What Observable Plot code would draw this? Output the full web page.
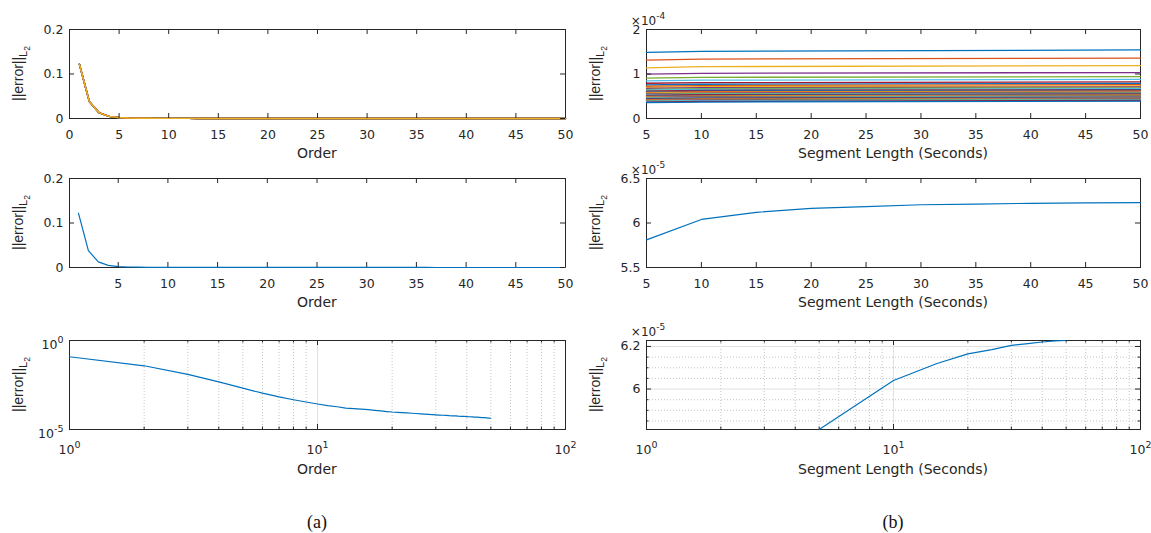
<!DOCTYPE html>
<html>
<head>
<meta charset="utf-8">
<script src="https://cdn.jsdelivr.net/npm/d3@7"></script>
<script src="https://cdn.jsdelivr.net/npm/@observablehq/plot@0.6"></script>
<style>
  body { margin: 0; background: #fff; }
  #fig { position: relative; width: 1151px; height: 533px; overflow: hidden; background: #fff; }
  #fig svg { position: absolute; overflow: visible; }
  .cap { position: absolute; top: 513px; width: 120px; text-align: center; line-height: 18px;
         font-family: "Liberation Serif", "DejaVu Serif", serif; font-size: 18px; color: #111; }
</style>
</head>
<body>
<div id="fig"></div>
<script>
// ---- data ----------------------------------------------------------------
// polynomial order axis
const orders = [1,2,3,4,5,6,7,8,9,10,11,12,13,14,15,16,17,18,19,20,
                21,22,23,24,25,26,27,28,29,30,31,32,33,34,35,36,37,38,39,40,
                41,42,43,44,45,46,47,48,49,50];
// L2 error versus order
const errorByOrder = [0.122,0.038,0.0125,0.0047,0.0021,0.0011,0.00068,0.00047,0.00035,0.00027,
                      0.00022,0.00019,0.00016,0.00015,0.00014,0.00013,0.00012,0.00011,0.000102,0.000096,
                      0.000092,0.000088,0.000085,0.000082,0.000079,0.000076,0.000073,0.000071,0.000069,0.000067,
                      0.000065,0.000063,0.000062,0.00006,0.000059,0.000058,0.000056,0.000055,0.000054,0.000053,
                      0.000052,0.000051,0.00005,0.000049,0.000048,0.000047,0.000046,0.000045,0.000044,0.000043];
// segment lengths in seconds
const segmentLengths = [5,10,15,20,25,30,35,40,45,50];
// per-order error curves over segment length (units of 1e-4), sampled at 5, 10 and 50 s
const sweepSamples = [5, 10, 50];
const errAt5  = [1.486,1.313,1.139,0.996,0.906,0.845,0.792,0.755,0.725,0.700,0.675,0.655,0.635,0.615,0.600,0.585,0.570,0.555,
                 0.540,0.530,0.520,0.505,0.495,0.485,0.475,0.465,0.455,0.445,0.435,0.425,0.415,0.405,0.395,0.385,0.370,0.355];
const errAt10 = [1.510,1.335,1.165,1.015,0.925,0.862,0.806,0.770,0.741,0.716,0.692,0.672,0.652,0.632,0.617,0.602,0.587,0.572,
                 0.556,0.546,0.535,0.520,0.510,0.499,0.489,0.479,0.469,0.459,0.449,0.439,0.429,0.419,0.409,0.399,0.384,0.369];
const errAt50 = [1.540,1.359,1.190,1.033,0.942,0.878,0.822,0.790,0.760,0.735,0.710,0.690,0.670,0.650,0.635,0.620,0.605,0.590,
                 0.575,0.565,0.555,0.540,0.530,0.520,0.510,0.500,0.490,0.480,0.470,0.460,0.450,0.440,0.430,0.420,0.405,0.390];
// single-order error versus segment length (units of 1e-5)
const sweepError = [5.81,6.04,6.12,6.165,6.185,6.205,6.213,6.221,6.226,6.228];

// tick values
const linTicks0 = [0,5,10,15,20,25,30,35,40,45,50];
const linTicks5 = [5,10,15,20,25,30,35,40,45,50];
const decadeTicks = [1,10,100];
const minorDecade = [2,3,4,5,6,7,8,9,20,30,40,50,60,70,80,90];

const lineColors = ["#0072BD","#D95319","#EDB120","#7E2F8E","#77AC30","#4DBEEE","#A2142F"];

// ---- helpers -------------------------------------------------------------
const INK = "#262626";
const ML = 75, MR = 12, MT = 24, MB = 56;
const FONT = "'DejaVu Sans', sans-serif";
const fig = document.getElementById("fig");

function frameTicks(xt, yt, w, h, len) {
  return [
    Plot.tickX(xt, {x: d => d, insetTop: h - len, stroke: INK}),
    Plot.tickX(xt, {x: d => d, insetBottom: h - len, stroke: INK}),
    Plot.tickY(yt, {y: d => d, insetRight: w - len, stroke: INK}),
    Plot.tickY(yt, {y: d => d, insetLeft: w - len, stroke: INK})
  ];
}

function superscripts(svg) {
  d3.select(svg).selectAll("text").each(function () {
    const s = this.textContent;
    if (!s.includes("^")) return;
    const [base, exp] = s.split("^");
    const t = d3.select(this);
    t.text(null);
    t.append("tspan").text(base);
    t.append("tspan").attr("dy", -6).attr("font-size", 9.5).text(exp);
  });
}

function panel({L, T, w, h, x, y, marks, xlabel, xlabelOff, exponent}) {
  const svg = Plot.plot({
    width: w + ML + MR, height: h + MT + MB,
    marginLeft: ML, marginRight: MR, marginTop: MT, marginBottom: MB,
    x, y,
    style: {fontFamily: FONT, fontSize: "12.5px", color: INK, background: "transparent", overflow: "visible"},
    marks
  });
  svg.style.left = (L - ML) + "px";
  svg.style.top = (T - MT) + "px";
  fig.append(svg);
  superscripts(svg);
  const g = d3.select(svg);
  // x label
  g.append("text").attr("x", ML + w / 2).attr("y", MT + h + xlabelOff)
    .attr("text-anchor", "middle").attr("fill", INK)
    .attr("font-family", FONT).attr("font-size", 14).text(xlabel);
  // y label ||error||_{L_2}
  const yl = g.append("text")
    .attr("transform", `translate(${ML - 46},${MT + h / 2}) rotate(-90)`)
    .attr("text-anchor", "middle").attr("fill", INK)
    .attr("font-family", "'Liberation Sans', Arial, sans-serif").attr("font-size", 14);
  yl.append("tspan").text("||error||");
  yl.append("tspan").attr("font-size", 11).attr("dy", 4).text("L");
  yl.append("tspan").attr("font-size", 8.5).attr("dy", 3).text("2");
  // axis multiplier
  if (exponent) {
    const ex = g.append("text").attr("x", ML + 2).attr("y", MT - 4.5).attr("fill", INK)
      .attr("font-family", FONT).attr("font-size", 12);
    ex.append("tspan").text("\u00d710");
    ex.append("tspan").attr("dy", -6).attr("font-size", 9).text(exponent);
  }
  return svg;
}

const W_L = 496, W_R = 494, H = 89;
const X_L = 69, X_R = 646;
const Y_TOP = 29, Y_MID = 178, Y_BOT = 340;

const fmt = d => String(d);
const pow10 = d => "10^" + Math.round(Math.log10(d));

// long tables built from the arrays above
const orderRows = orders.map((o, i) => ({order: o, err: errorByOrder[i]}));
const sweepRows = segmentLengths.map((s, i) => ({seg: s, err: sweepError[i]}));
const perOrderCurves = errAt5.map((_, k) =>
  sweepSamples.map((s, j) => ({seg: s, err: [errAt5, errAt10, errAt50][j][k]})));

// ---- (a) top: error vs order, one curve per segment length ---------------
panel({
  L: X_L, T: Y_TOP, w: W_L, h: H,
  x: {domain: [0, 50]}, y: {domain: [0, 0.2]},
  xlabel: "Order", xlabelOff: 39.5,
  marks: [
    Plot.frame({stroke: INK}),
    ...segmentLengths.map((s, i) => Plot.line(orderRows, {x: "order", y: "err", stroke: lineColors[i % 7], strokeWidth: 1.4})),
    ...frameTicks(linTicks0, [0, 0.1, 0.2], W_L, H, 5),
    Plot.axisX({ticks: linTicks0, tickSize: 0, tickPadding: 12, tickFormat: fmt, label: null}),
    Plot.axisY({ticks: [0, 0.1, 0.2], tickSize: 0, tickPadding: 6, tickFormat: fmt, label: null})
  ]
});

// ---- (b) top: error vs segment length, one curve per order ---------------
panel({
  L: X_R, T: Y_TOP, w: W_R, h: H,
  x: {domain: [5, 50]}, y: {domain: [0, 2]},
  xlabel: "Segment Length (Seconds)", xlabelOff: 39.5, exponent: "-4",
  marks: [
    Plot.frame({stroke: INK}),
    ...perOrderCurves.map((c, k) => Plot.line(c, {x: "seg", y: "err", stroke: lineColors[k % 7], strokeWidth: 1.3})),
    ...frameTicks(linTicks5, [0, 1, 2], W_R, H, 5),
    Plot.axisX({ticks: linTicks5, tickSize: 0, tickPadding: 12, tickFormat: fmt, label: null}),
    Plot.axisY({ticks: [0, 1, 2], tickSize: 0, tickPadding: 6, tickFormat: fmt, label: null})
  ]
});

// ---- (a) middle -----------------------------------------------------------
panel({
  L: X_L, T: Y_MID, w: W_L, h: H,
  x: {domain: [0.1, 50]}, y: {domain: [0, 0.2]},
  xlabel: "Order", xlabelOff: 39.5,
  marks: [
    Plot.frame({stroke: INK}),
    Plot.line(orderRows, {x: "order", y: "err", stroke: lineColors[0], strokeWidth: 1.2}),
    ...frameTicks(linTicks5, [0, 0.1, 0.2], W_L, H, 5),
    Plot.axisX({ticks: linTicks5, tickSize: 0, tickPadding: 12, tickFormat: fmt, label: null}),
    Plot.axisY({ticks: [0, 0.1, 0.2], tickSize: 0, tickPadding: 6, tickFormat: fmt, label: null})
  ]
});

// ---- (b) middle -----------------------------------------------------------
panel({
  L: X_R, T: Y_MID, w: W_R, h: H,
  x: {domain: [5, 50]}, y: {domain: [5.5, 6.5]},
  xlabel: "Segment Length (Seconds)", xlabelOff: 39.5, exponent: "-5",
  marks: [
    Plot.frame({stroke: INK}),
    Plot.line(sweepRows, {x: "seg", y: "err", stroke: lineColors[0], strokeWidth: 1.2}),
    ...frameTicks(linTicks5, [5.5, 6, 6.5], W_R, H, 5),
    Plot.axisX({ticks: linTicks5, tickSize: 0, tickPadding: 12, tickFormat: fmt, label: null}),
    Plot.axisY({ticks: [5.5, 6, 6.5], tickSize: 0, tickPadding: 6, tickFormat: fmt, label: null})
  ]
});

// ---- (a) bottom: log-log --------------------------------------------------
panel({
  L: X_L, T: Y_BOT, w: W_L, h: H,
  x: {type: "log", domain: [1, 100]}, y: {type: "log", domain: [1e-5, 1]},
  xlabel: "Order", xlabelOff: 45,
  marks: [
    Plot.ruleX(minorDecade, {stroke: "#c4c4c4", strokeDasharray: "1,2"}),
    Plot.ruleX([10], {stroke: "#e0e0e0"}),
    Plot.frame({stroke: INK}),
    Plot.line(orderRows, {x: "order", y: "err", stroke: lineColors[0], strokeWidth: 1.2}),
    ...frameTicks(decadeTicks, [1e-5, 1], W_L, H, 5),
    Plot.tickX(minorDecade, {x: d => d, insetTop: H - 2.5, stroke: INK}),
    Plot.tickX(minorDecade, {x: d => d, insetBottom: H - 2.5, stroke: INK}),
    Plot.axisX({ticks: decadeTicks, tickSize: 0, tickPadding: 15.5, tickFormat: pow10, label: null}),
    Plot.axisY({ticks: [1e-5, 1], tickSize: 0, tickPadding: 6, dy: 4, tickFormat: pow10, label: null})
  ]
});

// ---- (b) bottom: log segment length --------------------------------------
const yMinor = [5.85, 5.9, 5.95, 6.05, 6.1, 6.15];
panel({
  L: X_R, T: Y_BOT, w: W_R, h: H,
  x: {type: "log", domain: [1, 100]}, y: {domain: d3.extent(sweepError)},
  xlabel: "Segment Length (Seconds)", xlabelOff: 45, exponent: "-5",
  marks: [
    Plot.ruleX(minorDecade, {stroke: "#c4c4c4", strokeDasharray: "1,2"}),
    Plot.ruleY(yMinor, {stroke: "#c4c4c4", strokeDasharray: "1,2"}),
    Plot.ruleX([10], {stroke: "#e0e0e0"}),
    Plot.ruleY([6, 6.2], {stroke: "#e0e0e0"}),
    Plot.frame({stroke: INK}),
    Plot.line(sweepRows, {x: "seg", y: "err", stroke: lineColors[0], strokeWidth: 1.2}),
    ...frameTicks(decadeTicks, [6, 6.2], W_R, H, 5),
    Plot.tickX(minorDecade, {x: d => d, insetTop: H - 2.5, stroke: INK}),
    Plot.tickX(minorDecade, {x: d => d, insetBottom: H - 2.5, stroke: INK}),
    Plot.tickY(yMinor, {y: d => d, insetRight: W_R - 2.5, stroke: INK}),
    Plot.tickY(yMinor, {y: d => d, insetLeft: W_R - 2.5, stroke: INK}),
    Plot.axisX({ticks: decadeTicks, tickSize: 0, tickPadding: 15.5, tickFormat: pow10, label: null}),
    Plot.axisY({ticks: [6, 6.2], tickSize: 0, tickPadding: 6, tickFormat: fmt, label: null})
  ]
});

// ---- subfigure captions ---------------------------------------------------
for (const [label, cx] of [["(a)", X_L + W_L / 2], ["(b)", X_R + W_R / 2]]) {
  const d = document.createElement("div");
  d.className = "cap";
  d.style.left = (cx - 60) + "px";
  d.textContent = label;
  fig.append(d);
}
</script>
</body>
</html>
